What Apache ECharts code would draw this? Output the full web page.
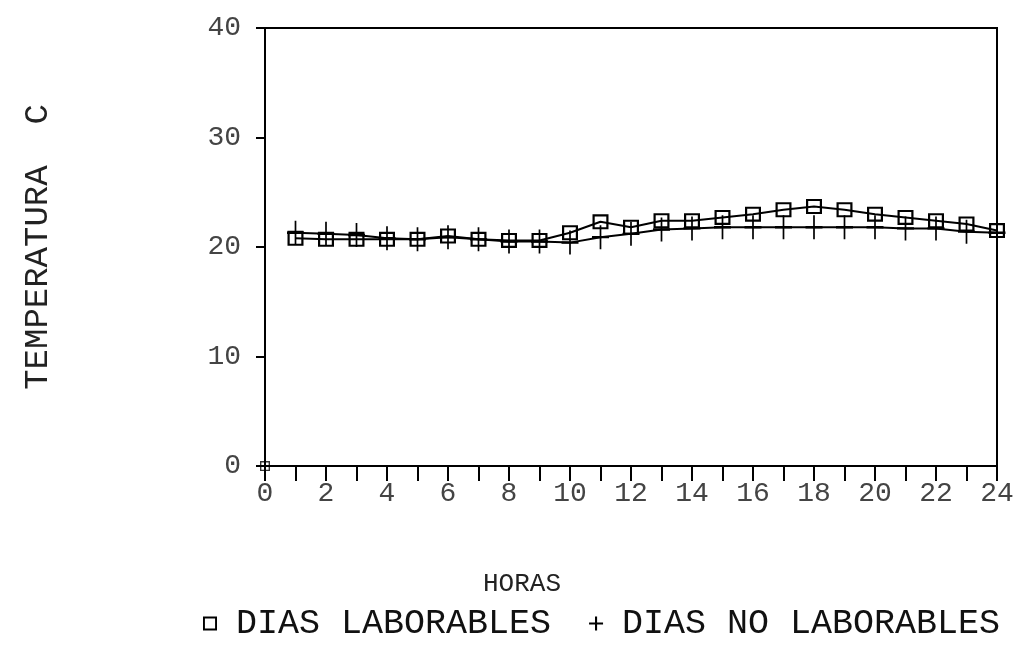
<!DOCTYPE html>
<html>
<head>
<meta charset="utf-8">
<script src="https://cdn.jsdelivr.net/npm/echarts@6/dist/echarts.min.js"></script>
<style>
  html, body { margin: 0; padding: 0; background: #fff; }
  #chart { width: 1029px; height: 647px; }
</style>
</head>
<body>
<div id="chart"></div>
<script>
// Hourly mean temperature, working vs non-working days
const hours = [1, 2, 3, 4, 5, 6, 7, 8, 9, 10, 11, 12, 13, 14, 15, 16, 17, 18, 19, 20, 21, 22, 23, 24];
const tempLaborables = [20.8, 20.7, 20.7, 20.7, 20.7, 21.0, 20.7, 20.6, 20.6, 21.3, 22.3, 21.8,
                        22.4, 22.4, 22.7, 23.0, 23.4, 23.7, 23.4, 23.0, 22.7, 22.4, 22.1, 21.5];
const tempNoLaborables = [21.3, 21.2, 21.1, 20.8, 20.7, 20.9, 20.7, 20.5, 20.5, 20.4, 20.9, 21.2,
                          21.6, 21.7, 21.8, 21.8, 21.8, 21.8, 21.8, 21.8, 21.7, 21.7, 21.4, 21.3];
const originHour = [0];
const originTemp = [0];
const xTickLabels = ['0', '2', '4', '6', '8', '10', '12', '14', '16', '18', '20', '22', '24'];
const yTickLabels = ['0', '10', '20', '30', '40'];

const nameLab = 'DIAS LABORABLES';
const nameNoLab = 'DIAS NO LABORABLES';

// hollow square (ring) and thin plus, both as filled paths
const squareSym = 'path://M0,0 H16 V16 H0 Z M2.2,2.2 V13.8 H13.8 V2.2 Z';
const plusSym = 'path://M0,9 H9 V0 H11 V9 H20 V11 H11 V20 H9 V11 H0 Z';
const plusIcon = 'path://M0,8.5 H8.5 V0 H11.5 V8.5 H20 V11.5 H11.5 V20 H8.5 V11.5 H0 Z';

const mono = '"Liberation Mono", "DejaVu Sans Mono", monospace';

const pairs = (xs, ys) => xs.map((x, i) => [x, ys[i]]);

const chart = echarts.init(document.getElementById('chart'), null, { renderer: 'canvas' });
chart.setOption({
  backgroundColor: '#fff',
  animation: false,
  title: {
    text: 'HORAS',
    left: 478,
    top: 566,
    textStyle: { fontFamily: mono, fontSize: 26, fontWeight: 'normal', color: '#222' }
  },
  legend: {
    left: 198,
    top: 601,
    itemWidth: 14,
    itemHeight: 14,
    itemGap: 38,
    data: [
      { name: nameLab, icon: squareSym },
      { name: nameNoLab, icon: plusIcon }
    ],
    textStyle: { fontFamily: mono, fontSize: 35, color: '#111', padding: [0, 0, 0, 14] }
  },
  grid: {
    left: 265, right: 32, top: 28, bottom: 181,
    show: true, borderColor: '#000', borderWidth: 2, backgroundColor: 'transparent'
  },
  xAxis: {
    type: 'value',
    min: 0, max: 24, interval: 1,
    axisLine: { show: true, lineStyle: { color: '#000', width: 2 } },
    axisTick: { show: true, inside: false, length: 15, lineStyle: { color: '#000', width: 2 } },
    splitLine: { show: false },
    axisLabel: {
      margin: 14,
      fontFamily: mono, fontSize: 28, color: '#444',
      formatter: v => (xTickLabels.includes(String(v)) ? String(v) : '')
    }
  },
  yAxis: {
    type: 'value',
    min: 0, max: 40, interval: 10,
    name: 'TEMPERATURA  C',
    nameLocation: 'middle',
    nameRotate: 90,
    nameGap: 210,
    nameTextStyle: { fontFamily: mono, fontSize: 34, color: '#222' },
    axisLine: { show: true, lineStyle: { color: '#000', width: 2 } },
    axisTick: { show: true, inside: false, length: 9, lineStyle: { color: '#000', width: 2 } },
    splitLine: { show: false },
    axisLabel: {
      margin: 24,
      fontFamily: mono, fontSize: 28, color: '#444',
      formatter: v => (yTickLabels.includes(String(v)) ? String(v) : '')
    }
  },
  series: [
    {
      name: nameLab,
      type: 'line',
      data: pairs(hours, tempLaborables),
      symbol: squareSym,
      symbolSize: [16, 15],
      showAllSymbol: true,
      lineStyle: { color: '#000', width: 2 },
      itemStyle: { color: '#000' }
    },
    {
      name: nameNoLab,
      type: 'line',
      data: pairs(hours, tempNoLaborables),
      symbol: plusSym,
      symbolSize: [17, 24],
      showAllSymbol: true,
      lineStyle: { color: '#000', width: 2 },
      itemStyle: { color: '#000' }
    },
    {
      name: 'origen',
      type: 'scatter',
      data: pairs(originHour, originTemp),
      symbol: squareSym,
      symbolSize: 10,
      itemStyle: { color: '#000' },
      silent: true
    },
    {
      name: 'origen+',
      type: 'scatter',
      data: pairs(originHour, originTemp),
      symbol: plusSym,
      symbolSize: [14, 18],
      itemStyle: { color: '#000' },
      silent: true
    }
  ]
});
</script>
</body>
</html>
